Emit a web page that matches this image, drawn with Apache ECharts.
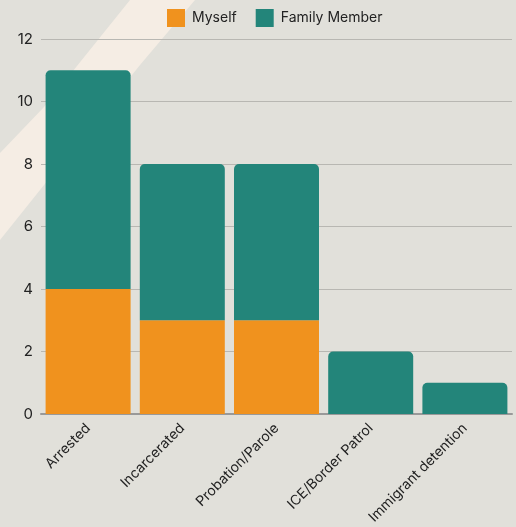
<!DOCTYPE html>
<html>
<head>
<meta charset="utf-8">
<script src="https://cdn.jsdelivr.net/npm/echarts@6/dist/echarts.min.js"></script>
<style>
  html, body { margin: 0; padding: 0; background: #e1e0da; }
  #chart1 { width: 516px; height: 527px; }
</style>
</head>
<body>
<div id="chart1"></div>
<script>
// data
var categories = ['Arrested', 'Incarcerated', 'Probation/Parole', 'ICE/Border Patrol', 'Immigrant detention'];
var myself = [4, 3, 3, 0, 0];
var familyMember = [7, 5, 5, 2, 1];

var chart = echarts.init(document.getElementById('chart1'));

chart.setOption({
  backgroundColor: '#e1e0da',
  textStyle: { fontFamily: 'Inter, Roboto, sans-serif' },
  // light swoosh in the corner
  graphic: [{
    type: 'polygon',
    z: -10,
    silent: true,
    shape: {
      points: [[130, 0], [195, 0], [140, 65], [80, 140], [0, 240], [0, 153], [44, 107]]
    },
    style: { fill: '#f5ede4' }
  }],
  legend: {
    data: ['Myself', 'Family Member'],
    top: 4,
    left: 162,
    itemWidth: 18,
    itemHeight: 18,
    itemGap: 19,
    icon: 'rect',
    textStyle: { fontSize: 14, color: '#222', padding: [0, 0, 0, 2] }
  },
  grid: {
    left: 41,
    right: 4,
    top: 39,
    bottom: 113
  },
  xAxis: {
    type: 'category',
    data: categories,
    axisTick: { show: false },
    axisLine: { lineStyle: { color: '#999', width: 2 } },
    axisLabel: {
      rotate: 45,
      fontSize: 14,
      color: '#222',
      margin: 12,
      interval: 0
    }
  },
  yAxis: {
    type: 'value',
    min: 0,
    max: 12,
    interval: 2,
    axisLabel: { fontSize: 15, color: '#222', margin: 8 },
    splitLine: { lineStyle: { color: '#b8b7b2', width: 1 } }
  },
  series: [{
    name: 'Myself',
    type: 'bar',
    stack: 'total',
    barWidth: 85,
    itemStyle: { color: '#f0921e' },
    data: myself
  }, {
    name: 'Family Member',
    type: 'bar',
    stack: 'total',
    barWidth: 85,
    itemStyle: { color: '#23857a', borderRadius: [5, 5, 0, 0] },
    data: familyMember
  }]
});
</script>
</body>
</html>
